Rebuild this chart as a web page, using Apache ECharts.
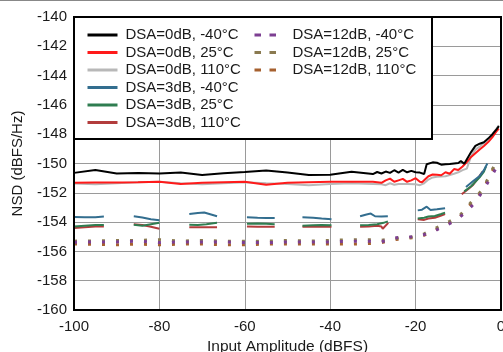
<!DOCTYPE html>
<html><head><meta charset="utf-8">
<script src="https://cdn.jsdelivr.net/npm/echarts@6/dist/echarts.min.js"></script>
<style>html,body{margin:0;padding:0;background:#fff}#c{width:503px;height:352px}</style>
</head><body><div id="c"></div>
<script>
// ---- Data ----
var xTicks = [-100, -80, -60, -40, -20, 0];
var yTicks = [-160, -158, -156, -154, -152, -150, -148, -146, -144, -142, -140];

var names = ["DSA=0dB, -40°C","DSA=0dB, 25°C","DSA=0dB, 110°C","DSA=3dB, -40°C","DSA=3dB, 25°C","DSA=3dB, 110°C","DSA=12dB, -40°C","DSA=12dB, 25°C","DSA=12dB, 110°C"];

var dsa0m40X = [-100,-95,-90,-85,-80,-75,-70,-65,-60,-55,-50,-45,-40,-35,-30,-29,-28,-27,-26,-25,-24,-23,-22,-21,-20,-19,-18,-17.4,-16,-15,-14,-13,-12,-11,-10,-9.4,-8.6,-7,-6,-5,-4,-3,-2,-1,-0.5];
var dsa0m40Y = [-150.64,-150.45,-150.68,-150.65,-150.68,-150.62,-150.78,-150.66,-150.58,-150.47,-150.62,-150.78,-150.76,-150.57,-150.72,-150.58,-150.68,-150.55,-150.64,-150.46,-150.62,-150.44,-150.6,-150.5,-150.6,-150.62,-150.72,-150.05,-149.92,-149.95,-150.08,-150.05,-150.03,-150.0,-149.97,-149.84,-150.02,-149.22,-148.8,-148.65,-148.55,-148.3,-148.0,-147.65,-147.45];

var dsa0p25X = [-100,-95,-90,-85,-80,-75,-70,-65,-60,-55,-50,-45,-40,-35,-30,-28,-27,-26,-25,-24,-23,-22,-21,-20,-19,-18.5,-17,-16,-15,-14,-13,-12,-11,-10,-9,-8,-7,-6,-5,-4,-3,-2,-1,-0.5];
var dsa0p25Y = [-151.32,-151.3,-151.3,-151.28,-151.25,-151.4,-151.32,-151.28,-151.25,-151.45,-151.32,-151.28,-151.25,-151.25,-151.25,-151.32,-151.15,-151.03,-151.25,-151.15,-151.05,-151.25,-151.15,-151.0,-151.25,-151.28,-150.87,-150.75,-150.77,-150.8,-150.6,-150.7,-150.38,-150.45,-150.2,-149.9,-149.55,-149.3,-149.04,-148.8,-148.54,-148.2,-147.78,-147.62];

var dsa0p110X = [-100,-95,-90,-85,-80,-75,-70,-65,-60,-55,-50,-45,-40,-35,-30,-28,-27,-26,-25,-24,-22,-20,-19,-18,-17,-16,-15,-13,-11,-10,-9,-8,-7,-6,-5,-4,-3,-2,-1,-0.5];
var dsa0p110Y = [-151.37,-151.42,-151.35,-151.28,-151.25,-151.35,-151.42,-151.35,-151.28,-151.35,-151.4,-151.48,-151.4,-151.35,-151.4,-151.42,-151.48,-151.35,-151.45,-151.4,-151.4,-151.42,-151.48,-151.35,-151.1,-150.95,-150.9,-150.87,-150.7,-150.6,-150.45,-150.35,-149.5,-149.05,-148.85,-148.6,-148.3,-148.0,-147.6,-147.4];

// DSA=3dB: segmented (null = gap)
var dsa3m40X = [-100,-97.5,-95,-93,-90,-86,-84,-82,-80,-77,-73,-71,-69.5,-66.5,-63,-59.5,-57,-55,-53,-50,-46.5,-44,-42,-39.7,-36,-33,-31.5,-30.5,-29.5,-28,-26.5,-23,-19.5,-18.5,-17.4,-16.5,-15,-13.1,-11,-8.2,-6.5,-5,-4,-3.2];
var dsa3m40Y = [-153.65,-153.67,-153.67,-153.62,null,-153.6,-153.68,-153.8,-153.88,null,-153.45,-153.38,-153.35,-153.6,null,-153.67,-153.7,-153.72,-153.72,null,-153.67,-153.7,-153.75,-153.8,null,-153.6,-153.48,-153.42,-153.6,-153.62,-153.6,null,-153.2,-153.15,-152.95,-153.17,-153.12,-153.05,null,-151.6,-151.2,-150.85,-150.45,-150.0];

var dsa3p25X = [-100,-97.5,-95,-93,-90,-86,-84,-82,-80,-77,-73,-71,-69,-66.5,-63,-59.5,-57,-55,-53,-50,-46.5,-44,-42,-39.7,-36,-33,-31,-29,-27.5,-26.5,-23,-19.5,-18,-17,-15.5,-14,-13.1,-11,-8.6,-7,-6,-5,-4,-3.5];
var dsa3p25Y = [-154.3,-154.25,-154.2,-154.2,null,-154.18,-154.25,-154.15,-154.05,null,-154.18,-154.2,-154.15,-154.05,null,-154.12,-154.1,-154.12,-154.15,null,-154.25,-154.22,-154.2,-154.22,null,-154.22,-154.2,-154.15,-154.05,-153.95,null,-153.75,-153.7,-153.62,-153.58,-153.45,-153.35,null,-151.9,-151.55,-151.25,-150.95,-150.55,-150.2];

var dsa3p110X = [-100,-97.5,-95,-93,-90,-86,-84,-82,-80,-77,-73,-71,-69,-66.5,-63,-59.5,-57,-55,-53,-50,-46.5,-44,-42,-39.7,-36,-33,-31,-29,-28,-27.7,-26.4,-23,-19.5,-18,-17,-15.5,-14,-13.1,-11,-9.2,-7.5,-6.5,-5.5,-4.3];
var dsa3p110Y = [-154.4,-154.35,-154.3,-154.3,null,-154.15,-154.2,-154.32,-154.45,null,-154.35,-154.35,-154.35,-154.35,null,-154.3,-154.32,-154.32,-154.32,null,-154.32,-154.3,-154.32,-154.32,null,-154.32,-154.3,-154.25,-154.3,-154.45,-154.05,null,-153.8,-153.85,-153.75,-153.7,-153.55,-153.45,null,-152.1,-151.7,-151.45,-151.05,-150.55];

var dsa12m40X = [-100,-95,-90,-85,-80,-75,-70,-65,-60,-55,-50,-45,-40,-35,-30,-28,-26,-24,-22,-20,-18,-16,-14,-12,-10,-8,-6,-4,-2,-1];
var dsa12m40Y = [-155.38,-155.35,-155.35,-155.3,-155.4,-155.35,-155.35,-155.35,-155.4,-155.4,-155.35,-155.35,-155.35,-155.3,-155.3,-155.35,-155.15,-155.05,-155.05,-154.95,-154.85,-154.7,-154.35,-154.1,-153.75,-153.25,-152.65,-151.75,-150.75,-150.25];

var dsa12p25X = [-100,-95,-90,-85,-80,-75,-70,-65,-60,-55,-50,-45,-40,-35,-30,-28,-25,-22,-20,-18,-16.3,-13,-9.8,-7,-4.3,-2.7,-1.2,-0.5];
var dsa12p25Y = [-155.3,-155.28,-155.25,-155.25,-155.2,-155.3,-155.25,-155.3,-155.3,-155.3,-155.25,-155.3,-155.25,-155.2,-155.2,-155.25,-155.1,-155.05,-155.0,-154.8,-154.55,-154.1,-153.6,-152.65,-151.78,-150.82,-149.9,-149.8];

var dsa12p110X = [-100,-95,-90,-85,-80,-75,-70,-65,-60,-55,-50,-45,-40,-35,-30,-28,-25,-22,-20,-18,-16.3,-13,-9.8,-7,-4.3,-2.7,-1.2,-0.5];
var dsa12p110Y = [-155.5,-155.52,-155.55,-155.5,-155.55,-155.5,-155.5,-155.55,-155.55,-155.5,-155.5,-155.5,-155.5,-155.5,-155.45,-155.4,-155.2,-155.1,-155.05,-154.9,-154.65,-154.2,-153.7,-152.75,-151.85,-150.9,-150.0,-149.85];

var colors = ["#000000","#ff1a1a","#b8b8b8","#336e8f","#2f7d50","#b23c3c","#7d3f92","#8a7a50","#a6602f"];

// ---- Build ----
function pairs(xs, ys){ return xs.map(function(x,i){ return [x, ys[i]===null ? '-' : ys[i]]; }); }
var seriesData = [
  pairs(dsa0m40X, dsa0m40Y), pairs(dsa0p25X, dsa0p25Y), pairs(dsa0p110X, dsa0p110Y),
  pairs(dsa3m40X, dsa3m40Y), pairs(dsa3p25X, dsa3p25Y), pairs(dsa3p110X, dsa3p110Y),
  pairs(dsa12m40X, dsa12m40Y), pairs(dsa12p25X, dsa12p25Y), pairs(dsa12p110X, dsa12p110Y)
];
var order = [8,7,6,5,4,3,2,1,0];
var series = order.map(function(i){
  var dashed = i >= 6;
  return {
    name: names[i], type: 'line', data: seriesData[i], symbol: 'none', connectNulls: false,
    animation: false, z: 2 + (8 - i) * 0.01,
    lineStyle: { color: colors[i], width: dashed ? 3 : 2, type: dashed ? [3, 11] : 'solid' },
    itemStyle: { color: colors[i] }
  };
});

var font = "'Liberation Sans', Arial, sans-serif";
function legendItems(idx){
  return idx.map(function(i){
    var dashed = i >= 6;
    return {
      name: names[i],
      lineStyle: { width: 3, color: colors[i], type: dashed ? [6.5, 8.5] : 'solid' },
      itemStyle: { color: 'rgba(0,0,0,0)', borderWidth: 0, opacity: 0 }
    };
  });
}
var legendBase = {
  orient: 'vertical', padding: 0, itemWidth: 30, itemHeight: 9, itemGap: 2.5,
  selectedMode: false, z: 6,
  textStyle: { fontFamily: font, fontSize: 15, color: '#1a1a1a', lineHeight: 15, padding: [0,0,0,3] }
};

var chart = echarts.init(document.getElementById('c'), null, { renderer: 'canvas' });
chart.setOption({
  animation: false,
  backgroundColor: '#ffffff',
  grid: { left: 74, right: 2, top: 17, bottom: 42, show: true, borderColor: '#000', borderWidth: 2, backgroundColor: 'transparent', z: 5, containLabel: false, outerBoundsMode: 'none' },
  xAxis: {
    type: 'value', min: xTicks[0], max: xTicks[xTicks.length-1], interval: 20,
    name: 'Input Amplitude (dBFS)', nameLocation: 'middle', nameGap: 27,
    nameTextStyle: { fontFamily: font, fontSize: 15.5, color: '#1a1a1a' },
    axisLine: { show: false }, axisTick: { show: false },
    axisLabel: { fontFamily: font, fontSize: 15, color: '#1a1a1a', margin: 9, hideOverlap: false },
    splitLine: { show: true, lineStyle: { color: '#9a9a9a', width: 1 } }
  },
  yAxis: {
    type: 'value', min: yTicks[0], max: yTicks[yTicks.length-1], interval: 2,
    name: 'NSD (dBFS/Hz)', nameLocation: 'middle', nameGap: 49,
    nameTextStyle: { fontFamily: font, fontSize: 15, color: '#1a1a1a' },
    axisLine: { show: false }, axisTick: { show: false },
    axisLabel: { fontFamily: font, fontSize: 15, color: '#1a1a1a', margin: 7 },
    splitLine: { show: true, lineStyle: { color: '#9a9a9a', width: 1 } }
  },
  legend: [
    Object.assign({}, legendBase, { left: 86, top: 27.5, data: legendItems([0,1,2,3,4,5]) }),
    Object.assign({}, legendBase, { left: 253, top: 27.5, data: legendItems([6,7,8]) })
  ],
  graphic: { elements: [
    { type: 'rect', shape: { x: 74, y: 17, width: 358, height: 122 }, style: { fill: '#fff', stroke: '#000', lineWidth: 2 }, z: 4 },
    { type: 'line', shape: { x1: 0, y1: 0.5, x2: 503, y2: 0.5 }, style: { stroke: '#888', lineWidth: 1 }, z: 4 }
  ]},
  series: series
});
</script></body></html>
